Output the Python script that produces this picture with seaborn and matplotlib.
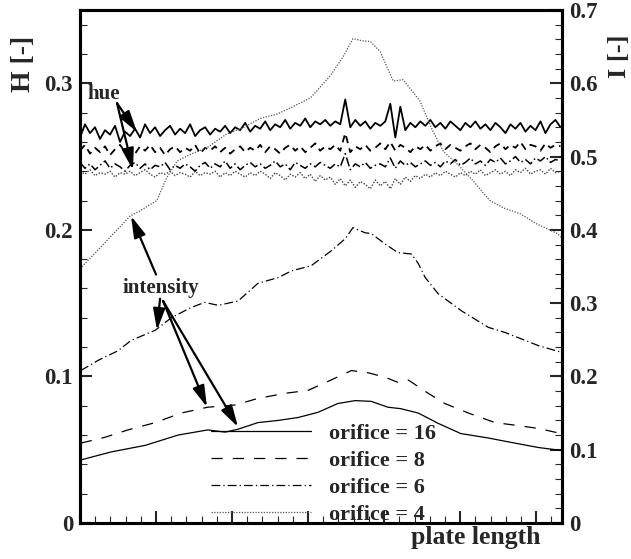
import numpy as np
import pandas as pd
import seaborn as sns
import matplotlib
matplotlib.use("Agg")
import matplotlib.pyplot as plt
from matplotlib.ticker import MultipleLocator, FuncFormatter

# ---------------- data ----------------
legend_labels = ["orifice = 16", "orifice = 8", "orifice = 6", "orifice = 4"]

# hue (left axis, H [-]) sampled along the plate
x_hue = np.linspace(0, 6.32, 97)
hue16 = [
    0.263, 0.272, 0.266, 0.270, 0.262, 0.268, 0.265, 0.271, 0.260, 0.267,
    0.264, 0.269, 0.263, 0.272, 0.266, 0.270, 0.264, 0.268, 0.271, 0.265,
    0.269, 0.266, 0.272, 0.264, 0.268, 0.270, 0.265, 0.269, 0.267, 0.271,
    0.266, 0.270, 0.268, 0.273, 0.267, 0.271, 0.269, 0.274, 0.268, 0.272,
    0.270, 0.275, 0.269, 0.273, 0.271, 0.276, 0.270, 0.274, 0.272, 0.275,
    0.271, 0.274, 0.272, 0.289, 0.270, 0.275, 0.271, 0.274, 0.269, 0.273,
    0.271, 0.274, 0.286, 0.263, 0.284, 0.268, 0.273, 0.270, 0.274, 0.271,
    0.275, 0.270, 0.273, 0.269, 0.274, 0.271, 0.268, 0.273, 0.270, 0.274,
    0.269, 0.272, 0.268, 0.273, 0.270, 0.266, 0.272, 0.269, 0.273, 0.267,
    0.271, 0.268, 0.274, 0.266, 0.272, 0.275, 0.270]
hue8 = [
    0.254, 0.258, 0.252, 0.256, 0.253, 0.257, 0.251, 0.255, 0.258, 0.253,
    0.256, 0.252, 0.257, 0.254, 0.258, 0.253, 0.256, 0.251, 0.255, 0.257,
    0.253, 0.256, 0.254, 0.258, 0.252, 0.256, 0.254, 0.257, 0.253, 0.256,
    0.252, 0.255, 0.257, 0.253, 0.256, 0.254, 0.258, 0.253, 0.257, 0.255,
    0.252, 0.256, 0.258, 0.254, 0.257, 0.253, 0.256, 0.259, 0.254, 0.257,
    0.255, 0.258, 0.254, 0.266, 0.253, 0.257, 0.255, 0.258, 0.254, 0.256,
    0.259, 0.255, 0.260, 0.254, 0.258, 0.256, 0.253, 0.257, 0.255, 0.258,
    0.254, 0.257, 0.259, 0.255, 0.258, 0.256, 0.254, 0.257, 0.259, 0.255,
    0.258, 0.256, 0.253, 0.257, 0.259, 0.255, 0.258, 0.256, 0.260, 0.255,
    0.258, 0.257, 0.254, 0.259, 0.256, 0.258, 0.257]
hue6 = [
    0.246, 0.242, 0.245, 0.241, 0.244, 0.247, 0.242, 0.245, 0.243, 0.240,
    0.244, 0.246, 0.242, 0.245, 0.241, 0.244, 0.243, 0.246, 0.241, 0.244,
    0.242, 0.245, 0.243, 0.240, 0.244, 0.246, 0.242, 0.245, 0.243, 0.247,
    0.242, 0.245, 0.241, 0.244, 0.246, 0.243, 0.245, 0.242, 0.244, 0.247,
    0.243, 0.245, 0.241, 0.246, 0.244, 0.242, 0.245, 0.243, 0.246, 0.244,
    0.242, 0.245, 0.243, 0.252, 0.241, 0.245, 0.243, 0.246, 0.242, 0.244,
    0.245, 0.243, 0.249, 0.242, 0.247, 0.244, 0.246, 0.243, 0.245, 0.247,
    0.244, 0.246, 0.243, 0.247, 0.245, 0.248, 0.244, 0.246, 0.249, 0.245,
    0.247, 0.244, 0.248, 0.246, 0.249, 0.245, 0.247, 0.250, 0.246, 0.248,
    0.245, 0.249, 0.247, 0.250, 0.246, 0.248, 0.247]
hue4 = [
    0.240, 0.238, 0.241, 0.237, 0.239, 0.238, 0.240, 0.236, 0.239, 0.238,
    0.240, 0.237, 0.239, 0.241, 0.238, 0.236, 0.239, 0.238, 0.240, 0.237,
    0.239, 0.238, 0.236, 0.240, 0.237, 0.239, 0.238, 0.240, 0.236, 0.239,
    0.237, 0.240, 0.238, 0.236, 0.239, 0.237, 0.240, 0.238, 0.235, 0.239,
    0.237, 0.234, 0.238, 0.236, 0.239, 0.235, 0.238, 0.233, 0.237, 0.234,
    0.236, 0.231, 0.235, 0.230, 0.234, 0.229, 0.233, 0.231, 0.228, 0.234,
    0.230, 0.233, 0.228, 0.235, 0.231, 0.236, 0.233, 0.237, 0.235, 0.238,
    0.236, 0.239, 0.237, 0.240, 0.238, 0.236, 0.239, 0.237, 0.240, 0.238,
    0.241, 0.237, 0.239, 0.241, 0.238, 0.240, 0.237, 0.241, 0.239, 0.242,
    0.238, 0.240, 0.241, 0.238, 0.242, 0.239, 0.240]

# intensity (right axis, I [-])
x_int16 = [0.01, 0.41, 0.86, 1.29, 1.68, 1.91, 2.08, 2.34, 2.61, 2.87, 3.13, 3.39,
           3.62, 3.83, 4.05, 4.22, 4.45, 4.71, 5.01, 5.37, 5.67, 6.03, 6.33]
int16 = [0.086, 0.097, 0.106, 0.120, 0.127, 0.124, 0.128, 0.137, 0.140, 0.144, 0.151, 0.163,
         0.167, 0.166, 0.158, 0.156, 0.150, 0.136, 0.122, 0.116, 0.110, 0.103, 0.099]
x_int8 = [0.01, 0.33, 0.63, 0.99, 1.33, 1.68, 2.04, 2.34, 2.70, 3.00, 3.30, 3.57,
          3.79, 4.01, 4.18, 4.32, 4.58, 4.80, 5.11, 5.46, 5.76, 6.03, 6.33]
int8 = [0.109, 0.117, 0.127, 0.137, 0.150, 0.158, 0.161, 0.170, 0.177, 0.181, 0.195, 0.208,
        0.205, 0.199, 0.192, 0.195, 0.177, 0.163, 0.150, 0.137, 0.133, 0.129, 0.122]
x_int6 = [0.01, 0.24, 0.50, 0.67, 0.99, 1.20, 1.46, 1.64, 1.82, 2.08, 2.34, 2.61, 2.78,
          3.04, 3.30, 3.49, 3.59, 3.75, 3.83, 4.01, 4.18, 4.36, 4.45, 4.54, 4.71, 5.01,
          5.37, 5.59, 5.86, 6.03, 6.33]
int6 = [0.208, 0.222, 0.235, 0.249, 0.263, 0.280, 0.294, 0.301, 0.297, 0.303, 0.327, 0.335,
        0.344, 0.351, 0.371, 0.388, 0.403, 0.396, 0.395, 0.381, 0.369, 0.367, 0.354, 0.335,
        0.313, 0.290, 0.267, 0.260, 0.249, 0.242, 0.233]
x_int4 = [0.00, 0.26, 0.66, 0.79, 1.01, 1.14, 1.28, 1.45, 1.67, 1.93, 2.14, 2.37, 2.59,
          2.76, 3.03, 3.29, 3.46, 3.59, 3.71, 3.82, 3.95, 4.12, 4.25, 4.34, 4.47, 4.64,
          4.78, 4.96, 5.17, 5.39, 5.57, 5.79, 6.01, 6.28, 6.34]
int4 = [0.347, 0.375, 0.419, 0.426, 0.440, 0.471, 0.494, 0.503, 0.512, 0.531, 0.539, 0.552,
        0.558, 0.566, 0.580, 0.610, 0.636, 0.661, 0.658, 0.657, 0.643, 0.603, 0.605, 0.593,
        0.576, 0.535, 0.507, 0.490, 0.467, 0.440, 0.430, 0.422, 0.408, 0.395, 0.389]

# ---------------- style ----------------
sns.set_style("ticks")
plt.rcParams["font.family"] = ["Liberation Serif", "DejaVu Serif"]
plt.rcParams["font.weight"] = "bold"
plt.rcParams["axes.labelweight"] = "bold"

fig = plt.figure(figsize=(6.31, 5.59), dpi=100)
ax = fig.add_axes([80 / 631, 36 / 559, 482 / 631, 513 / 559])
ax2 = ax.twinx()

ls_solid = "-"
ls_dash = (0, (9, 8))
ls_dashdot = (0, (7, 2.5, 1, 2.5))
ls_dot = (0, (1, 1.2))

# hue lines (left axis)
hue_df = pd.DataFrame({"x": x_hue, "h16": hue16, "h8": hue8, "h6": hue6, "h4": hue4})
sns.lineplot(data=hue_df, x="x", y="h16", ax=ax, color="black", lw=1.3,
             linestyle=ls_solid, estimator=None, legend=False)
sns.lineplot(data=hue_df, x="x", y="h8", ax=ax, color="black", lw=1.3,
             linestyle=(0, (4, 3)), estimator=None, legend=False)
sns.lineplot(data=hue_df, x="x", y="h6", ax=ax, color="black", lw=1.1,
             linestyle=(0, (6, 2, 1, 2)), estimator=None, legend=False)
sns.lineplot(data=hue_df, x="x", y="h4", ax=ax, color="#444444", lw=1.0,
             linestyle=(0, (1, 1.2)), estimator=None, legend=False)

# intensity lines (right axis)
series = [(x_int16, int16, ls_solid, "black", 0.9),
          (x_int8, int8, ls_dash, "black", 0.9),
          (x_int6, int6, ls_dashdot, "black", 0.9),
          (x_int4, int4, ls_dot, "#555555", 0.9)]
handles = []
for (xs, ys, ls, col, lw), lab in zip(series, legend_labels):
    d = pd.DataFrame({"x": xs, "I": ys})
    sns.lineplot(data=d, x="x", y="I", ax=ax2, color=col, lw=lw, linestyle=ls,
                 estimator=None, legend=False, label=lab)
    handles.append(ax2.lines[-1])

# ---------------- axes ----------------
fmt = FuncFormatter(lambda v, _: "0" if abs(v) < 1e-9 else f"{v:.1f}")
ax.set_xlim(0, 6.34)
ax.set_ylim(0, 0.35)
ax2.set_ylim(0, 0.70)
ax.xaxis.set_major_locator(MultipleLocator(1))
ax.xaxis.set_minor_locator(MultipleLocator(0.2))
ax.yaxis.set_major_locator(MultipleLocator(0.1))
ax.yaxis.set_minor_locator(MultipleLocator(0.02))
ax2.yaxis.set_major_locator(MultipleLocator(0.1))
ax2.yaxis.set_minor_locator(MultipleLocator(0.02))
ax.yaxis.set_major_formatter(fmt)
ax2.yaxis.set_major_formatter(fmt)

for a in (ax, ax2):
    a.tick_params(which="major", direction="in", length=8.5, width=1.5, labelsize=16.5, pad=5)
    a.tick_params(which="minor", direction="in", length=5, width=0.8)
    for s in a.spines.values():
        s.set_linewidth(2.2)
        s.set_color("black")
ax.tick_params(axis="x", which="both", top=False, labelbottom=False)
ax.tick_params(axis="y", which="both", right=False)
ax2.tick_params(axis="y", which="both", left=False)

ax.set_xlabel("plate length", fontsize=18.5, fontweight="bold")
ax.xaxis.set_label_coords(0.822, -0.006)
ax.set_ylabel("H [-]", fontsize=20, fontweight="bold", rotation=90, va="center", ha="center")
ax.yaxis.set_label_coords(-0.118, 0.895)
ax2.set_ylabel("I [-]", fontsize=19, fontweight="bold", rotation=90, va="center", ha="center")
ax2.yaxis.set_label_coords(1.120, 0.910)

for lab in ax.get_yticklabels() + ax2.get_yticklabels():
    lab.set_fontweight("bold")

# ---------------- annotations ----------------
arrow = dict(arrowstyle="-|>,head_length=0.65,head_width=0.18", color="black", lw=1.6,
             mutation_scale=20, shrinkA=0, shrinkB=0)
ax.text(0.316, 0.2925, "hue", ha="center", va="center", fontsize=15, fontweight="bold")
ax.annotate("", xy=(0.75, 0.2667), xytext=(0.487, 0.2864), arrowprops=arrow)
ax.annotate("", xy=(0.697, 0.2408), xytext=(0.487, 0.2864), arrowprops=arrow)

ax2.text(1.066, 0.320, "intensity", ha="center", va="center", fontsize=15, fontweight="bold")
ax2.annotate("", xy=(0.671, 0.419), xytext=(1.0, 0.339), arrowprops=arrow)
ax2.annotate("", xy=(1.013, 0.263), xytext=(1.053, 0.306), arrowprops=arrow)
ax2.annotate("", xy=(1.671, 0.158), xytext=(1.092, 0.303), arrowprops=arrow)
ax2.annotate("", xy=(2.079, 0.131), xytext=(1.092, 0.303), arrowprops=arrow)

# ---------------- legend ----------------
leg = ax2.legend(handles=handles, labels=legend_labels, loc="lower left",
                 bbox_to_anchor=(0.272, -0.003), frameon=False, handlelength=4.5,
                 handletextpad=0.8, labelspacing=0.29, borderpad=0, borderaxespad=0,
                 prop={"family": ["Liberation Serif"], "weight": "bold", "size": 16})

fig.savefig("out.png", dpi=100)
